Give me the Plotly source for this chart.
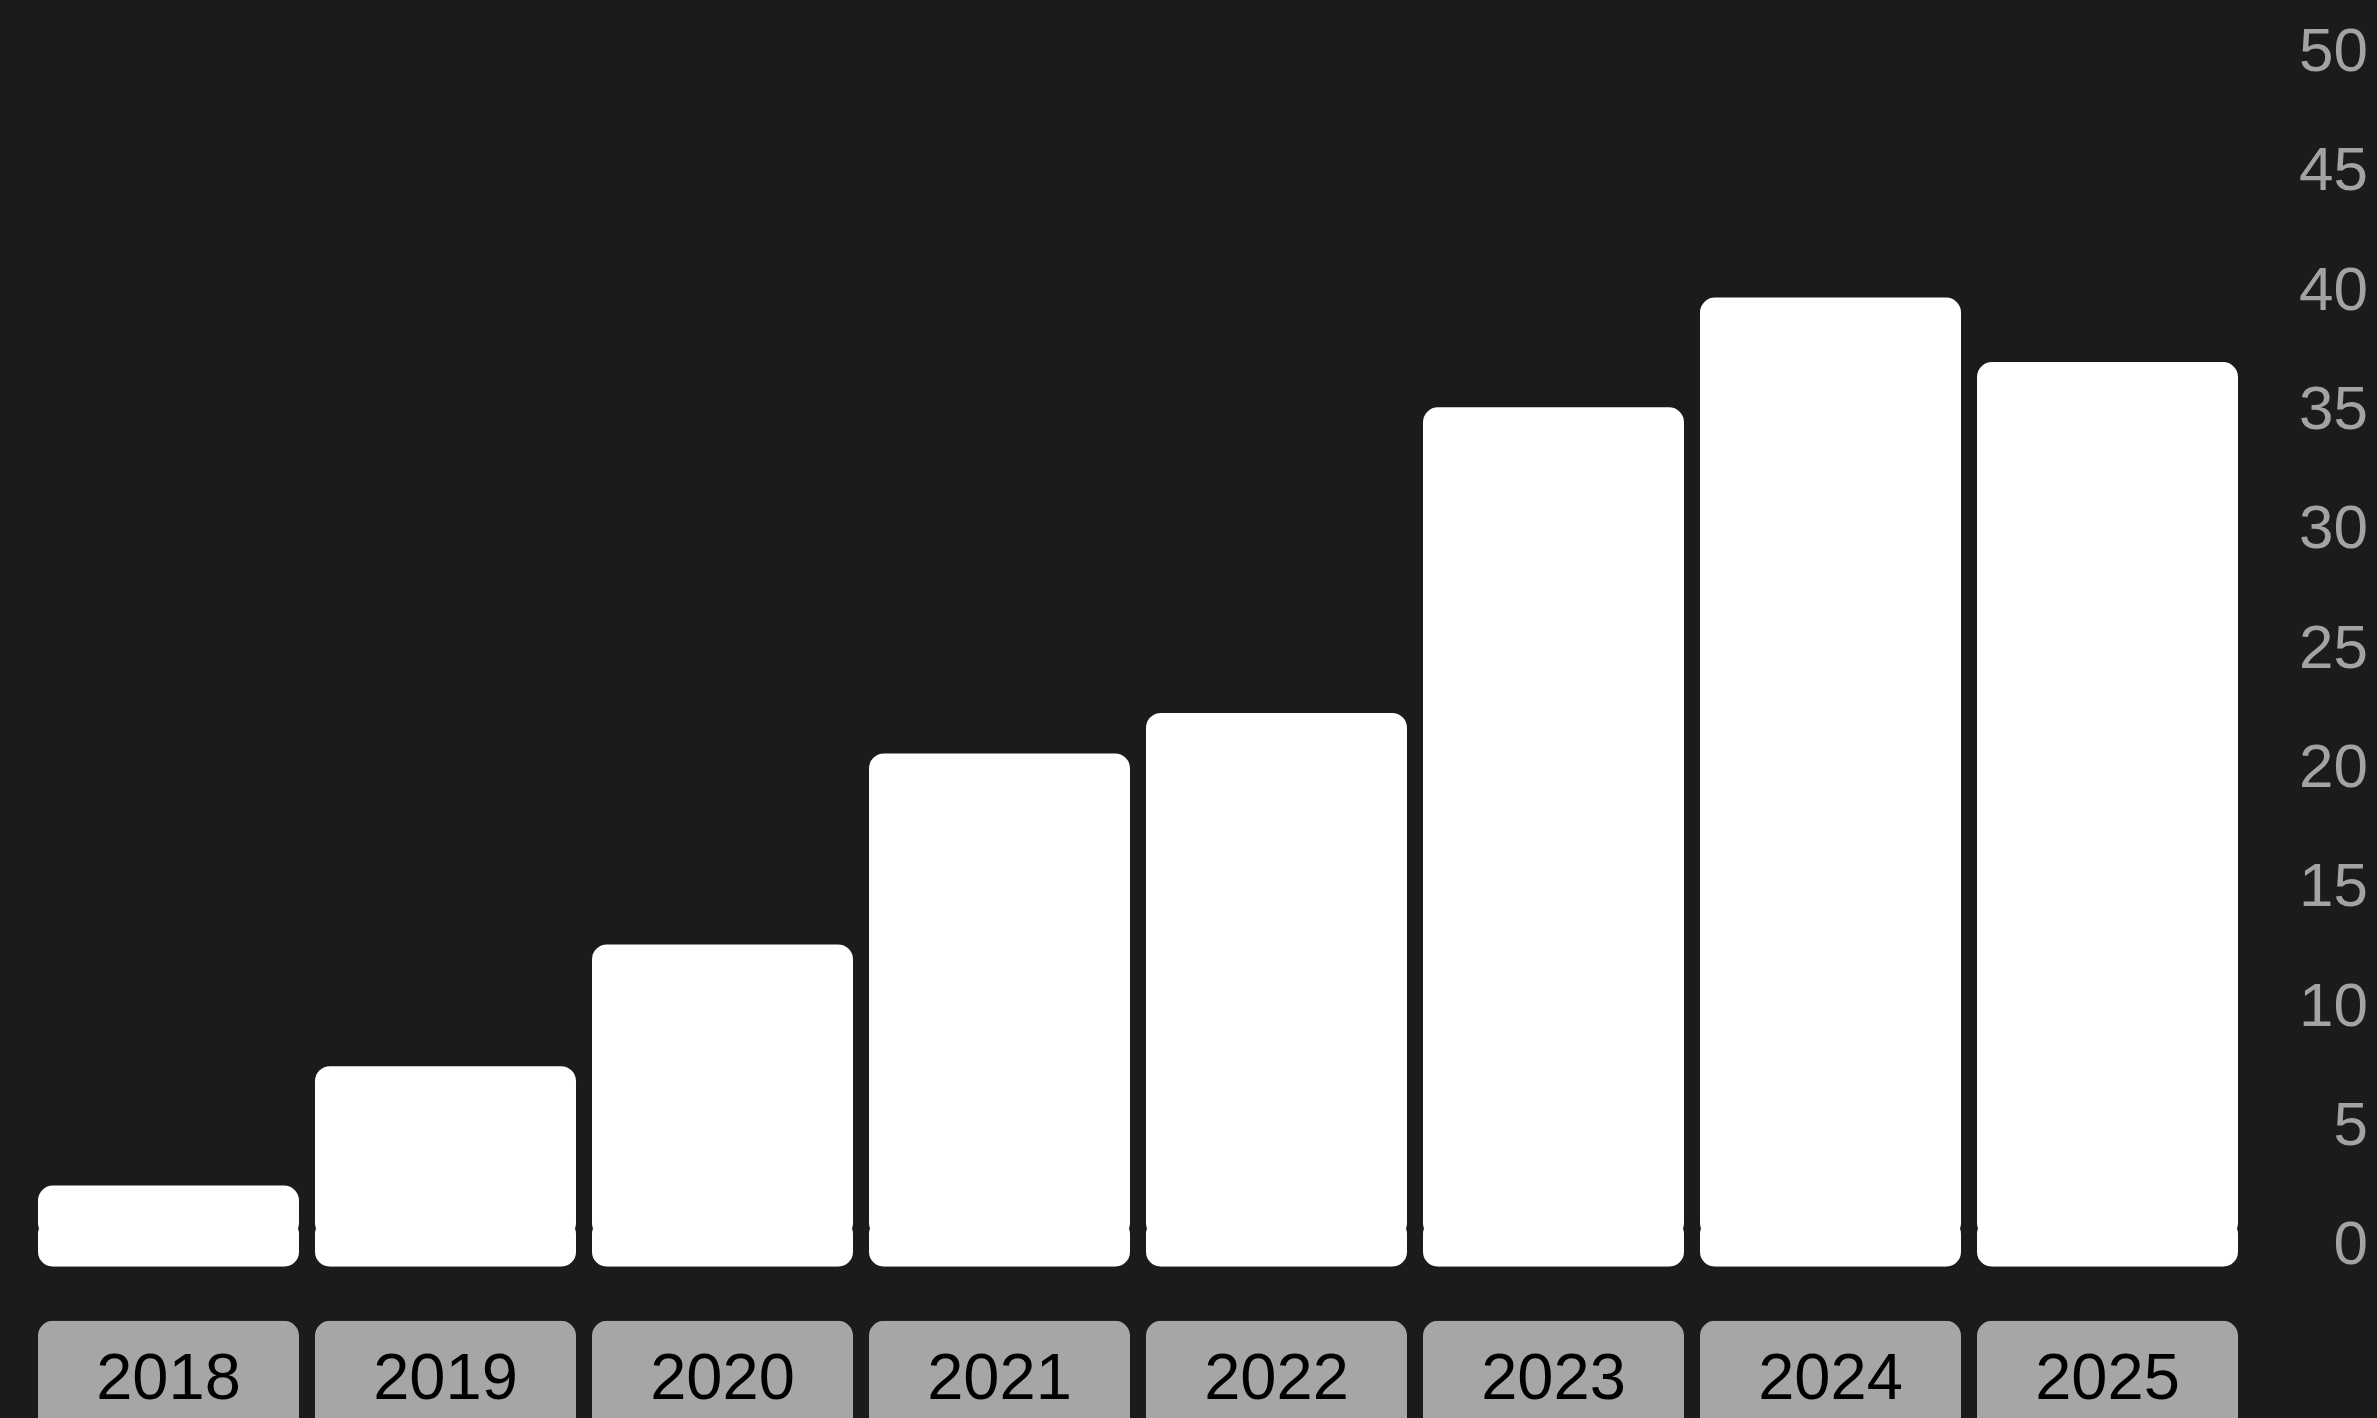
import plotly.graph_objects as go

years = ["2018", "2019", "2020", "2021", "2022", "2023", "2024", "2025"]
values = [3.4, 8.4, 13.5, 21.5, 23.2, 36.0, 40.6, 37.9]
y_ticks = [0, 5, 10, 15, 20, 25, 30, 35, 40, 45, 50]

W, H = 2377, 1418          # reference frame
FIG_H = 1431               # rendered height (photo is scaled back to 1418)
BG = "#1b1b1b"
FONT = "Liberation Sans, Arial, Helvetica, sans-serif"

# pixel-aligned category slots (277 px pitch, 16 px gaps)
SLOT0, PITCH, GAP = 30, 277, 16

fig = go.Figure()

low_top = 2.0
up_base = 1.2
fig.add_trace(go.Bar(
    x=years, y=[v - up_base for v in values], base=[up_base] * len(values),
    marker=dict(color="#ffffff", line=dict(width=0), cornerradius=15),
    hoverinfo="skip", showlegend=False,
))
fig.add_trace(go.Bar(
    x=years, y=[-min(low_top, v) for v in values], base=[min(low_top, v) for v in values],
    marker=dict(color="#ffffff", line=dict(width=0), cornerradius=15),
    hoverinfo="skip", showlegend=False,
))

# category label pills
fig.add_trace(go.Bar(
    x=years, y=[1.12] * len(years), base=[-0.12] * len(years), yaxis="y3",
    text=years, textposition="inside", insidetextanchor="middle",
    textfont=dict(family=FONT, size=65, color="#000000"),
    marker=dict(color="#a6a6a6", line=dict(width=0), cornerradius=15),
    hoverinfo="skip", showlegend=False,
))

fig.add_trace(go.Scatter(
    x=years, y=values, yaxis="y2", mode="markers",
    marker=dict(opacity=0), hoverinfo="skip", showlegend=False,
))

PX_PER_UNIT = 23.82
base_px = 1264
y_top = base_px / PX_PER_UNIT
shift = 24 / PX_PER_UNIT

fig.update_layout(
    width=W, height=FIG_H, autosize=False,
    margin=dict(l=0, r=0, t=0, b=0),
    paper_bgcolor=BG, plot_bgcolor=BG,
    barmode="overlay", bargap=GAP / PITCH,
    showlegend=False,
    xaxis=dict(domain=[SLOT0 / W, (SLOT0 + 8 * PITCH) / W], range=[-0.5, 7.5],
               showticklabels=False, showgrid=False, zeroline=False,
               showline=False, ticks="", fixedrange=True),
    yaxis=dict(domain=[1 - base_px / H, 1.0], range=[0, y_top],
               showticklabels=False, showgrid=False, zeroline=False,
               showline=False, ticks=""),
    yaxis2=dict(overlaying="y", anchor="free", position=2368 / W, side="left",
                range=[-shift, y_top - shift], tickmode="array",
                tickvals=y_ticks, ticktext=[str(t) for t in y_ticks],
                tickfont=dict(family=FONT, size=62, color="#a3a3a3"),
                showgrid=False, zeroline=False, showline=False, ticks="",
                ticklabelstandoff=0),
    yaxis3=dict(domain=[0, 100 / H], range=[0, 1], anchor="x",
                showticklabels=False, showgrid=False, zeroline=False,
                showline=False, ticks=""),
)

post = """
(function(){
  var de=document.documentElement, b=document.body;
  [de,b].forEach(function(e){
    e.style.margin='0'; e.style.padding='0'; e.style.overflow='hidden';
    e.style.background='#1b1b1b';
  });
})();
"""

fig.write_html("out.html", config={"displayModeBar": False}, post_script=post)
